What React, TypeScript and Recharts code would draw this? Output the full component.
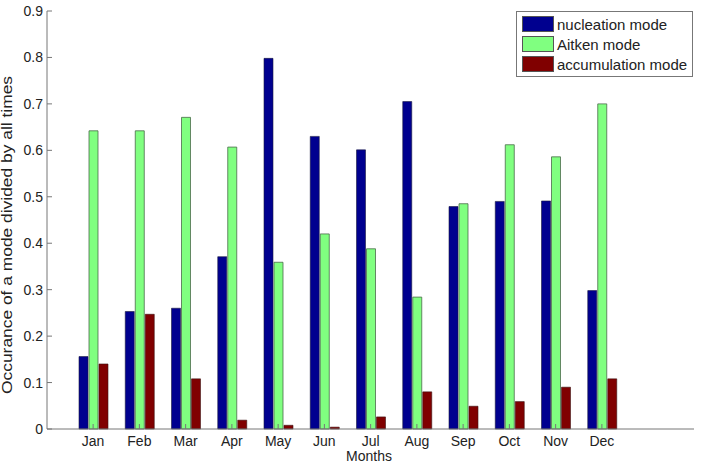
import React from "react";
import { BarChart, Bar, XAxis, YAxis, Legend, Label } from "recharts";

const months = ["Jan", "Feb", "Mar", "Apr", "May", "Jun", "Jul", "Aug", "Sep", "Oct", "Nov", "Dec"];
const nucleation = [0.156, 0.253, 0.26, 0.371, 0.798, 0.63, 0.601, 0.705, 0.479, 0.49, 0.491, 0.298];
const aitken = [0.642, 0.642, 0.671, 0.607, 0.359, 0.42, 0.388, 0.284, 0.485, 0.612, 0.586, 0.7];
const accumulation = [0.14, 0.247, 0.108, 0.019, 0.008, 0.004, 0.026, 0.08, 0.049, 0.059, 0.09, 0.108];
const seriesNames = ["nucleation mode", "Aitken mode", "accumulation mode"];
const yTicks = [0, 0.1, 0.2, 0.3, 0.4, 0.5, 0.6, 0.7, 0.8, 0.9];

const data = months.map((m, i) => ({
  month: m,
  nucleation: nucleation[i],
  aitken: aitken[i],
  accumulation: accumulation[i],
}));

const AXIS = "#777";
const TEXT = "#222";
const FONT = "'Liberation Sans', Arial, sans-serif";

// MATLAB style ticks: marks point into the plot
const BottomTick = (props: any) => {
  const { x, y, payload } = props;
  return (
    <g>
      <line x1={x} y1={y} x2={x} y2={y - 5} stroke={AXIS} />
      <text x={x} y={y + 17} textAnchor="middle" fill={TEXT} fontSize={14} fontFamily={FONT}>
        {payload.value}
      </text>
    </g>
  );
};

const TopTick = (props: any) => {
  const { x, y } = props;
  return <line x1={x} y1={y} x2={x} y2={y + 5} stroke={AXIS} />;
};

const LeftTick = (props: any) => {
  const { x, y, payload } = props;
  return (
    <g>
      <line x1={x} y1={y} x2={x + 5} y2={y} stroke={AXIS} />
      <text x={x - 4} y={y + 5} textAnchor="end" fill={TEXT} fontSize={14} fontFamily={FONT}>
        {payload.value === 0 ? "0" : payload.value.toFixed(1)}
      </text>
    </g>
  );
};

const RightTick = (props: any) => {
  const { x, y } = props;
  return <line x1={x} y1={y} x2={x - 5} y2={y} stroke={AXIS} />;
};

const renderLegend = (props: any) => {
  const items = [...props.payload].sort(
    (a: any, b: any) => seriesNames.indexOf(a.value) - seriesNames.indexOf(b.value)
  );
  return (
    <div
      style={{
        border: `1px solid ${AXIS}`,
        background: "#fff",
        padding: "2px 2px 2px 5px",
        fontFamily: FONT,
        fontSize: 15,
        color: TEXT,
      }}
    >
      {items.map((entry: any) => (
        <div key={entry.value} style={{ display: "flex", alignItems: "center", height: 20, whiteSpace: "nowrap" }}>
          <span
            style={{
              display: "inline-block",
              width: 32,
              height: 16,
              background: entry.color,
              border: "1px solid #555",
              boxSizing: "border-box",
              marginRight: 3,
            }}
          />
          <span>{entry.value}</span>
        </div>
      ))}
    </div>
  );
};

export default function App() {
  return (
    <div style={{ position: "absolute", left: 0, top: 0, background: "#fff" }}>
      <BarChart
        width={701}
        height={466}
        data={data}
        margin={{ top: 11, right: 7, left: 0, bottom: 0 }}
        barSize={9}
        barGap={1}
      >
        <XAxis
          dataKey="month"
          height={37}
          padding={{ left: 23, right: 69 }}
          stroke={AXIS}
          tickSize={0}
          tickMargin={0}
          tick={<BottomTick />}
          interval={0}
        >
          <Label
            content={() => (
              <text x={369} y={461} textAnchor="middle" fill={TEXT} fontSize={14} fontFamily={FONT}>
                Months
              </text>
            )}
          />
        </XAxis>
        <XAxis
          xAxisId="top"
          dataKey="month"
          orientation="top"
          height={0}
          padding={{ left: 23, right: 69 }}
          stroke={AXIS}
          tickSize={0}
          tickMargin={0}
          tick={<TopTick />}
          interval={0}
        />
        <YAxis
          width={47}
          domain={[0, 0.9]}
          ticks={yTicks}
          type="number"
          stroke={AXIS}
          tickSize={0}
          tickMargin={0}
          tick={<LeftTick />}
          interval={0}
        >
          <Label
            content={() => (
              <text
                x={12}
                y={235}
                transform="rotate(-90 12 235)"
                textAnchor="middle"
                fill={TEXT}
                fontSize={14}
                fontFamily={FONT}
                textLength={318}
                lengthAdjust="spacingAndGlyphs"
              >
                Occurance of a mode divided by all times
              </text>
            )}
          />
        </YAxis>
        <YAxis
          yAxisId="r"
          orientation="right"
          width={0}
          domain={[0, 0.9]}
          ticks={yTicks}
          type="number"
          stroke={AXIS}
          tickSize={0}
          tickMargin={0}
          tick={<RightTick />}
          interval={0}
        />
        <Legend
          layout="vertical"
          align="center"
          verticalAlign="middle"
          content={renderLegend}
          wrapperStyle={{ position: "absolute", left: 516, top: 11, width: 177 }}
        />
        <Bar dataKey="nucleation" name={seriesNames[0]} fill="#00008F" stroke="#1a1a40" strokeWidth={0.6} isAnimationActive={false} />
        <Bar dataKey="aitken" name={seriesNames[1]} fill="#80FF80" stroke="#4a6a4a" strokeWidth={0.8} isAnimationActive={false} />
        <Bar dataKey="accumulation" name={seriesNames[2]} fill="#800000" stroke="#3a1010" strokeWidth={0.6} isAnimationActive={false} />
      </BarChart>
    </div>
  );
}
